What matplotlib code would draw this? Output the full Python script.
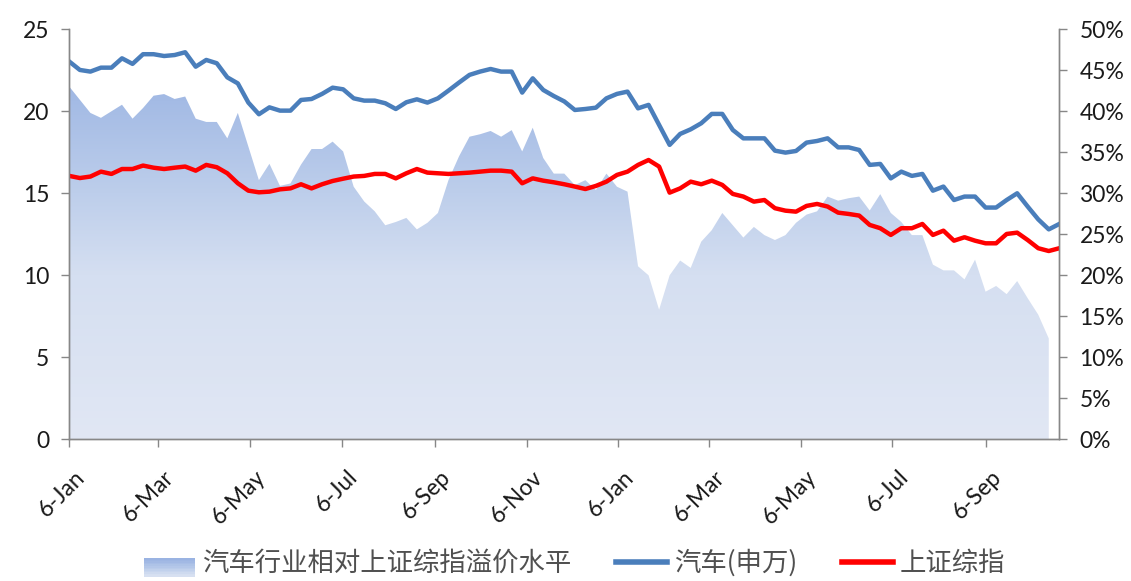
import numpy as np
import pandas as pd
import matplotlib
matplotlib.use("Agg")
import matplotlib.pyplot as plt
import matplotlib.dates as mdates
import matplotlib.transforms as mtransforms
from matplotlib.colors import LinearSegmentedColormap
from matplotlib.patches import Patch, Rectangle
from matplotlib.lines import Line2D
from matplotlib.legend_handler import HandlerBase
from matplotlib.ticker import FuncFormatter, MultipleLocator

# weekly data, 2011-01-06 .. 2012-10-25
dates = pd.date_range("2011-01-06", periods=95, freq="7D")

auto_pe = [23.03, 22.52, 22.42, 22.66, 22.66, 23.23, 22.89, 23.48, 23.48, 23.37,
           23.43, 23.60, 22.72, 23.13, 22.93, 22.07, 21.70, 20.53, 19.82, 20.24,
           20.04, 20.04, 20.69, 20.75, 21.06, 21.44, 21.34, 20.79, 20.65, 20.65,
           20.49, 20.14, 20.55, 20.73, 20.53, 20.79, 21.26, 21.75, 22.22, 22.42,
           22.58, 22.42, 22.42, 21.14, 22.01, 21.30, 20.93, 20.60, 20.08, 20.14,
           20.22, 20.79, 21.06, 21.20, 20.18, 20.39, 19.17, 17.95, 18.62, 18.90,
           19.27, 19.84, 19.84, 18.86, 18.35, 18.35, 18.35, 17.60, 17.48, 17.58,
           18.09, 18.19, 18.35, 17.80, 17.80, 17.64, 16.73, 16.79, 15.91, 16.32,
           16.06, 16.18, 15.16, 15.41, 14.59, 14.80, 14.80, 14.13, 14.13, 14.59,
           15.00, 14.19, 13.41, 12.80, 13.13]

sh_pe = [16.06, 15.93, 16.02, 16.32, 16.18, 16.48, 16.48, 16.69, 16.56, 16.48,
         16.56, 16.63, 16.38, 16.73, 16.59, 16.22, 15.61, 15.16, 15.06, 15.10,
         15.24, 15.30, 15.55, 15.30, 15.55, 15.75, 15.89, 16.02, 16.06, 16.18,
         16.18, 15.91, 16.22, 16.48, 16.26, 16.22, 16.18, 16.22, 16.26, 16.32,
         16.38, 16.38, 16.32, 15.61, 15.91, 15.77, 15.67, 15.55, 15.41, 15.26,
         15.45, 15.71, 16.12, 16.32, 16.73, 17.03, 16.63, 15.04, 15.30, 15.71,
         15.55, 15.77, 15.51, 14.96, 14.80, 14.49, 14.59, 14.09, 13.94, 13.88,
         14.23, 14.35, 14.19, 13.82, 13.74, 13.64, 13.07, 12.87, 12.46, 12.87,
         12.87, 13.13, 12.46, 12.72, 12.11, 12.32, 12.11, 11.95, 11.95, 12.52,
         12.60, 12.15, 11.65, 11.48, 11.65]

# premium in %, one week shorter than the lines
premium = [43.0, 41.4, 39.8, 39.2, 40.0, 40.8, 39.1, 40.4, 41.9, 42.1,
           41.5, 41.8, 39.1, 38.7, 38.7, 36.7, 39.8, 35.7, 31.6, 33.6,
           30.9, 31.2, 33.5, 35.4, 35.4, 36.3, 35.1, 30.8, 29.0, 27.8,
           26.1, 26.5, 27.0, 25.6, 26.4, 27.6, 31.6, 34.5, 36.9, 37.2,
           37.6, 36.9, 37.7, 35.1, 38.0, 34.3, 32.4, 32.4, 31.0, 31.6,
           30.4, 32.4, 30.8, 30.2, 21.1, 20.0, 15.8, 20.0, 21.8, 20.9,
           24.1, 25.5, 27.6, 26.1, 24.6, 25.9, 24.9, 24.3, 24.9, 26.4,
           27.4, 27.8, 29.6, 29.1, 29.4, 29.6, 27.9, 29.9, 27.6, 26.5,
           24.9, 24.9, 21.3, 20.6, 20.6, 19.5, 21.9, 18.0, 18.7, 17.7,
           19.3, 17.2, 15.2, 12.3]

tick_dates = pd.date_range("2011-01-06", "2012-09-06", freq=pd.DateOffset(months=2))
tick_labels = [f"{d.day}-{d.strftime('%b')}" for d in tick_dates]

series_names = ["汽车行业相对上证综指溢价水平", "汽车(申万)", "上证综指"]

num_font = ["Lato", "Noto Sans CJK SC", "DejaVu Sans"]
cjk_font = ["Noto Sans CJK SC", "DejaVu Sans"]
axis_gray = "#878787"
blue = "#4A7EBB"
red = "#FF0000"

cmap = LinearSegmentedColormap.from_list(
    "area", [(0.0, "#E1E7F4"), (0.4, "#D5DFF1"), (0.6, "#BDCEEB"),
             (0.86, "#A0B8E4"), (1.0, "#97B1E1")])


class GradientHandler(HandlerBase):
    # legend key drawn as a small vertical gradient, sitting a bit low
    def create_artists(self, legend, orig_handle, xdescent, ydescent,
                       width, height, fontsize, trans):
        n = 12
        h = height * 1.0
        y0 = -ydescent - height * 0.35
        arts = []
        for k in range(n):
            c = cmap(0.95 - 0.6 * k / (n - 1))
            r = Rectangle((-xdescent, y0 + h * (n - 1 - k) / n), width, h / n + 0.3,
                          facecolor=c, edgecolor="none", transform=trans)
            arts.append(r)
        return arts


fig = plt.figure(figsize=(11.31, 5.81), dpi=100)
ax = fig.add_axes([0.0613, 0.2439, 0.8753, 0.7057])
ax2 = ax.twinx()

# gradient area on the secondary axis
x_num = mdates.date2num(dates)
prem = np.array(premium) / 100.0
poly = ax2.fill_between(x_num[:len(prem)], 0, prem, facecolor="none", edgecolor="none")
grad = np.linspace(0, 1, 256).reshape(-1, 1)
img = ax2.imshow(grad, extent=[x_num[0], x_num[-1], 0, 0.5], origin="lower",
                 aspect="auto", cmap=cmap, interpolation="bicubic")
img.set_clip_path(poly.get_paths()[0], transform=ax2.transData)

# lines on the primary axis, drawn on top
ax.plot(x_num, auto_pe, color=blue, lw=3.2, solid_joinstyle="round")
ax.plot(x_num, sh_pe, color=red, lw=3.2, solid_joinstyle="round")
ax.set_zorder(ax2.get_zorder() + 1)
ax.patch.set_visible(False)

ax.set_xlim(x_num[0], x_num[-1])
ax.set_ylim(0, 25)
ax2.set_ylim(0, 0.5)
ax.yaxis.set_major_locator(MultipleLocator(5))
ax2.yaxis.set_major_locator(MultipleLocator(0.05))
ax2.yaxis.set_major_formatter(FuncFormatter(lambda v, p: f"{v*100:.0f}%"))

ax.set_xticks(mdates.date2num(tick_dates))
ax.set_xticklabels(tick_labels, rotation=45, ha="right", rotation_mode="anchor")

for a in (ax, ax2):
    a.spines["top"].set_visible(False)
    for side in ("left", "right", "bottom"):
        a.spines[side].set_color(axis_gray)
        a.spines[side].set_linewidth(1.0)
    a.tick_params(axis="both", direction="out", length=5.5, width=1.0,
                  color=axis_gray, labelsize=16.5, labelcolor="#1a1a1a")
    for lab in a.get_xticklabels() + a.get_yticklabels():
        lab.set_family(num_font)
ax.tick_params(axis="y", pad=9)
ax2.tick_params(axis="y", pad=9)
ax.tick_params(axis="x", pad=14)

shift = mtransforms.ScaledTranslation(5 / 100, 0, fig.dpi_scale_trans)
for lab in ax.get_xticklabels():
    lab.set_transform(lab.get_transform() + shift)

handles = [Patch(facecolor="#BCCDEB", edgecolor="none"),
           Line2D([], [], color=blue, lw=4),
           Line2D([], [], color=red, lw=4)]
leg = fig.legend(handles, series_names, loc="center", ncol=3,
                 bbox_to_anchor=(0.508, 0.031), frameon=False,
                 prop={"family": cjk_font, "size": 19},
                 handlelength=1.95, handletextpad=0.25, columnspacing=1.7,
                 handler_map={Patch: GradientHandler()})
for t in leg.get_texts():
    t.set_color("#505050")

fig.savefig("out.png", dpi=100)
